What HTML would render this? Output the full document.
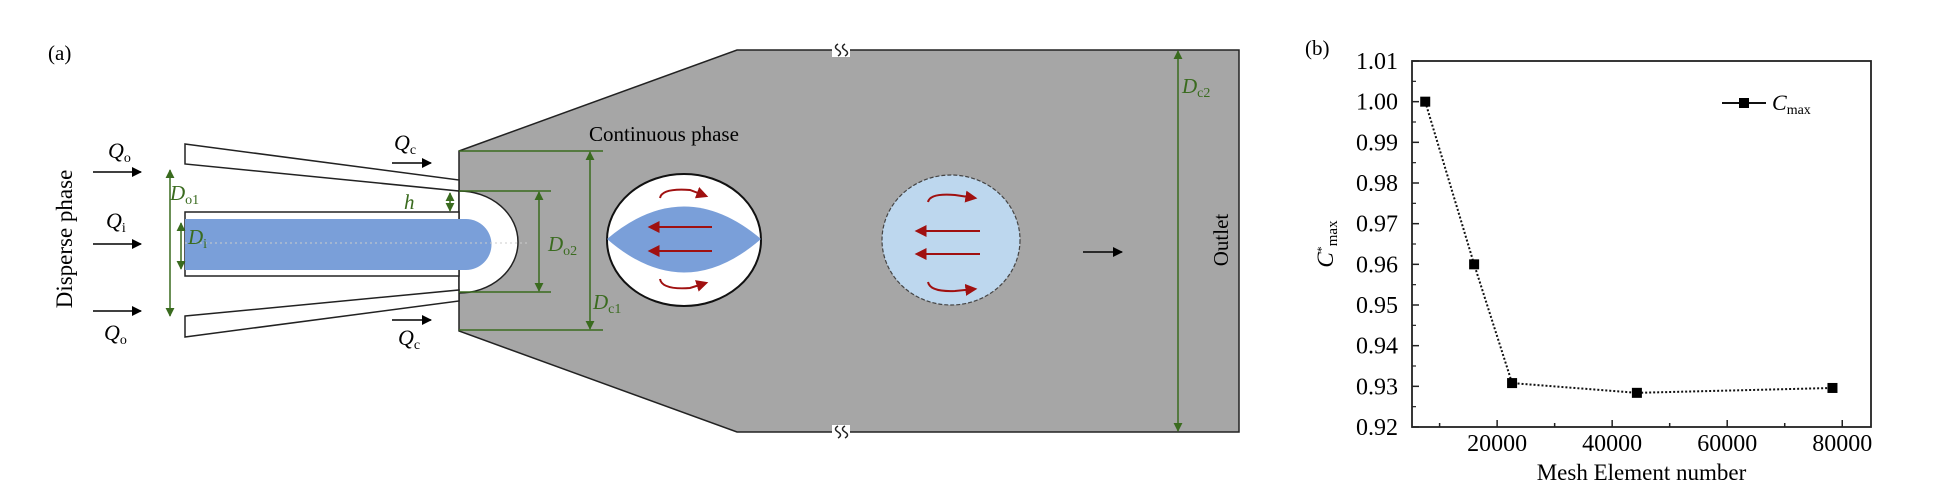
<!DOCTYPE html>
<html><head><meta charset="utf-8"><style>
html,body{margin:0;padding:0;background:#fff;}
svg, svg text{font-family:"Liberation Serif","DejaVu Serif",serif;}
svg{display:block;}
</style></head><body>
<svg id="fig" width="1943" height="500" viewBox="0 0 1943 500" xmlns="http://www.w3.org/2000/svg" font-family="Liberation Serif, serif">
<defs>
<marker id="ah" viewBox="0 0 10 10" refX="9" refY="5" markerWidth="10" markerHeight="10" markerUnits="userSpaceOnUse" orient="auto"><path d="M0,0 L10,5 L0,10 z" fill="#000"/></marker>
<marker id="gh" viewBox="0 0 10 10" refX="9" refY="5" markerWidth="9" markerHeight="9" markerUnits="userSpaceOnUse" orient="auto-start-reverse"><path d="M0,0 L10,5 L0,10 z" fill="#3a6b1f"/></marker>
<marker id="rh" viewBox="0 0 10 10" refX="8" refY="5" markerWidth="12" markerHeight="12" markerUnits="userSpaceOnUse" orient="auto"><path d="M0,0 L10,5 L0,10 z" fill="#a01010"/></marker>
</defs>

<g>
<text x="48" y="60" font-size="21">(a)</text>
<text transform="translate(72,239) rotate(-90)" text-anchor="middle" font-size="23">Disperse phase</text>

<polygon points="459,151 737,50 1239,50 1239,432 737,432 459,331" fill="#a6a6a6" stroke="#222" stroke-width="1.5"/>
<g stroke="#222" stroke-width="1.5" fill="none">
<rect x="832" y="43" width="18" height="14" fill="#fff" stroke="none"/>
<rect x="832" y="425" width="18" height="14" fill="#fff" stroke="none"/>
<path d="M838,44 q-5,3 0,6 q5,3 0,6 M845,44 q-5,3 0,6 q5,3 0,6"/>
<path d="M838,426 q-5,3 0,6 q5,3 0,6 M845,426 q-5,3 0,6 q5,3 0,6"/>
</g>

<path d="M459,191 A59,51 0 0 1 459,293 z" fill="#fff" stroke="#222" stroke-width="1.5"/>
<polygon points="185,144 459,180 459,191 185,164" fill="#fff" stroke="#222" stroke-width="1.5"/>
<polygon points="185,316 459,290 459,301 185,337" fill="#fff" stroke="#222" stroke-width="1.5"/>
<rect x="185" y="212" width="274" height="64" fill="#fff" stroke="#222" stroke-width="1.5"/>
<path d="M185,219 L466,219 A25.5,25.5 0 0 1 466,270 L185,270 z" fill="#7a9fd9"/>
<line x1="185" y1="243" x2="530" y2="243" stroke="#ccc" stroke-width="1" stroke-dasharray="2,3"/>

<g stroke="#000" stroke-width="1.5" marker-end="url(#ah)">
<line x1="93" y1="172" x2="141" y2="172"/>
<line x1="93" y1="244" x2="141" y2="244"/>
<line x1="93" y1="311" x2="141" y2="311"/>
<line x1="392" y1="163" x2="431" y2="163"/>
<line x1="392" y1="320" x2="431" y2="320"/>
</g>
<g font-size="22" font-style="italic">
<text x="108" y="158">Q<tspan font-size="14" font-style="normal" dy="4">o</tspan></text>
<text x="106" y="228">Q<tspan font-size="14" font-style="normal" dy="4">i</tspan></text>
<text x="104" y="340">Q<tspan font-size="14" font-style="normal" dy="4">o</tspan></text>
<text x="394" y="150">Q<tspan font-size="14" font-style="normal" dy="4">c</tspan></text>
<text x="398" y="345">Q<tspan font-size="14" font-style="normal" dy="4">c</tspan></text>
</g>

<g stroke="#3a6b1f" stroke-width="1.5" fill="none">
<line x1="170" y1="170" x2="170" y2="316" marker-start="url(#gh)" marker-end="url(#gh)"/>
<line x1="181" y1="223" x2="181" y2="269" marker-start="url(#gh)" marker-end="url(#gh)"/>
<line x1="450" y1="193" x2="450" y2="211" marker-start="url(#gh)" marker-end="url(#gh)"/>
<line x1="459" y1="191" x2="551" y2="191"/>
<line x1="459" y1="292" x2="551" y2="292"/>
<line x1="539" y1="192" x2="539" y2="291" marker-start="url(#gh)" marker-end="url(#gh)"/>
<line x1="459" y1="151" x2="603" y2="151"/>
<line x1="459" y1="330" x2="603" y2="330"/>
<line x1="590" y1="152" x2="590" y2="329" marker-start="url(#gh)" marker-end="url(#gh)"/>
<line x1="1178" y1="51" x2="1178" y2="431" marker-start="url(#gh)" marker-end="url(#gh)"/>
</g>
<g fill="#3a6b1f" font-size="21" font-style="italic">
<text x="170" y="200">D<tspan font-size="14" font-style="normal" dy="4">o1</tspan></text>
<text x="188" y="244">D<tspan font-size="14" font-style="normal" dy="4">i</tspan></text>
<text x="404" y="209">h</text>
<text x="548" y="251">D<tspan font-size="14" font-style="normal" dy="4">o2</tspan></text>
<text x="593" y="309">D<tspan font-size="14" font-style="normal" dy="4">c1</tspan></text>
<text x="1182" y="93">D<tspan font-size="14" font-style="normal" dy="4">c2</tspan></text>
</g>

<text x="589" y="141" font-size="21">Continuous phase</text>

<g>
<ellipse cx="684" cy="240" rx="77" ry="66" fill="#fff" stroke="#111" stroke-width="2"/>
<path d="M607,239 Q684,174 761,239 Q684,306 607,239 z" fill="#7a9fd9"/>
<g stroke="#a01010" stroke-width="2" fill="none" marker-end="url(#rh)">
<line x1="712" y1="227" x2="650" y2="227"/>
<line x1="712" y1="251" x2="650" y2="251"/>
<path d="M660,198 Q662,188 690,190 L706,196"/>
<path d="M660,279 Q662,290 690,288 L706,283"/>
</g>
</g>
<g>
<ellipse cx="951" cy="240" rx="69" ry="65" fill="#bdd7ee" stroke="#444" stroke-width="1.2" stroke-dasharray="4,2"/>
<g stroke="#a01010" stroke-width="2" fill="none" marker-end="url(#rh)">
<line x1="980" y1="231" x2="917" y2="231"/>
<line x1="980" y1="254" x2="917" y2="254"/>
<path d="M928,202 Q930,193 955,195 L975,198"/>
<path d="M928,282 Q930,292 955,291 L975,289"/>
</g>
</g>
<line x1="1083" y1="252" x2="1122" y2="252" stroke="#000" stroke-width="1.5" marker-end="url(#ah)"/>
<text transform="translate(1228,240) rotate(-90)" text-anchor="middle" font-size="21">Outlet</text>
</g>

<g id="chart"></g>
</svg>
<script>
const xValues = [7500, 16000, 22600, 44300, 78300];
const cmaxValues = [1.000, 0.960, 0.9308, 0.9284, 0.9296];
const yTicks = [0.92, 0.93, 0.94, 0.95, 0.96, 0.97, 0.98, 0.99, 1.00, 1.01];
const yTickLabels = ["0.92","0.93","0.94","0.95","0.96","0.97","0.98","0.99","1.00","1.01"];
const xTicks = [20000, 40000, 60000, 80000];
const xTickLabels = ["20000","40000","60000","80000"];

const NS = "http://www.w3.org/2000/svg";
const L = 1412, R = 1871, T = 61, B = 427;
const xMin = 5200, xMax = 85000, yMin = 0.92, yMax = 1.01;
const sx = v => L + (v - xMin) / (xMax - xMin) * (R - L);
const sy = v => B - (v - yMin) / (yMax - yMin) * (B - T);
const g = document.getElementById('chart');
function mk(tag, attrs, parent) {
  const e = document.createElementNS(NS, tag);
  for (const k in attrs) e.setAttribute(k, attrs[k]);
  (parent || g).appendChild(e);
  return e;
}
let t = mk('text', {x: 1305, y: 55, 'font-size': 21});
t.textContent = '(b)';



const frame = mk('rect', {x: L, y: T, width: R - L, height: B - T, fill: 'none', stroke: '#222', 'stroke-width': 1.8});



yTicks.forEach((v, i) => {
  const y = sy(v);
  const tk = mk('line', {x1: L, x2: L + 7, y1: y, y2: y, stroke: '#222', 'stroke-width': 1.5});
  
  
  if (i < yTicks.length - 1) {
    const ym = sy(v + 0.005);
    mk('line', {x1: L, x2: L + 4, y1: ym, y2: ym, stroke: '#222', 'stroke-width': 1.2});
  }
  const lb = mk('text', {x: L - 14, y: y + 8, 'text-anchor': 'end', 'font-size': 24});
  lb.textContent = yTickLabels[i];
  
  
});
for (let v = 10000; v < xMax; v += 10000) {
  const x = sx(v);
  const major = v % 20000 === 0;
  mk('line', {x1: x, x2: x, y1: B, y2: B - (major ? 7 : 4), stroke: '#222', 'stroke-width': 1.5});
}
xTicks.forEach((v, i) => {
  const lb = mk('text', {x: sx(v), y: B + 24, 'text-anchor': 'middle', 'font-size': 24});
  lb.textContent = xTickLabels[i];
  
  
});
const xt = mk('text', {x: (L + R) / 2, y: 480, 'text-anchor': 'middle', 'font-size': 23});
xt.textContent = 'Mesh Element number';


const yt = mk('text', {transform: 'translate(1333,' + ((T + B) / 2) + ') rotate(-90)', 'text-anchor': 'middle', 'font-size': 23});
yt.innerHTML = '<tspan font-style="italic">C</tspan><tspan dy="-8" font-size="12">*</tspan><tspan dy="12" font-size="15">max</tspan>';



const pts = xValues.map((v, i) => sx(v) + ',' + sy(cmaxValues[i])).join(' ');
const line = mk('polyline', {points: pts, fill: 'none', stroke: '#111', 'stroke-width': 2, 'stroke-dasharray': '2,2'});


xValues.forEach((v, i) => {
  const m = mk('rect', {x: sx(v) - 5, y: sy(cmaxValues[i]) - 5, width: 10, height: 10, fill: '#000'});
  
  
});
const lg = mk('g', {});


mk('line', {x1: 1722, x2: 1766, y1: 103, y2: 103, stroke: '#111', 'stroke-width': 2}, lg);
mk('rect', {x: 1739, y: 98, width: 10, height: 10, fill: '#000'}, lg);
const lt = mk('text', {x: 1772, y: 110, 'font-size': 22}, lg);
lt.innerHTML = '<tspan font-style="italic">C</tspan><tspan font-size="14" dy="4">max</tspan>';
</script>
</body></html>
